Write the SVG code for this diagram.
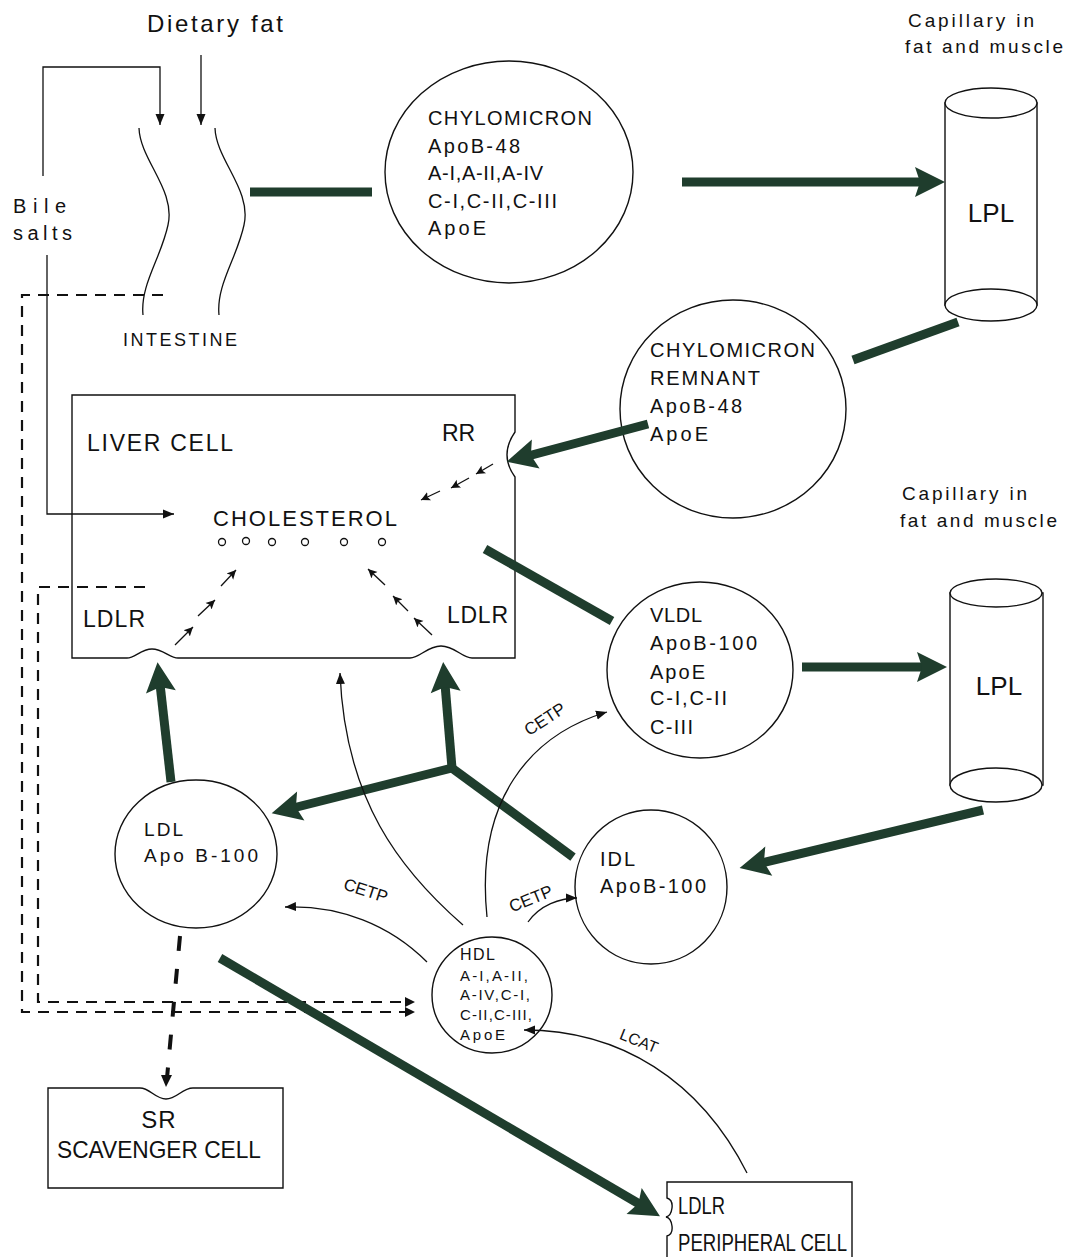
<svg xmlns="http://www.w3.org/2000/svg" width="1072" height="1257" viewBox="0 0 1072 1257">
<style>
text{font-family:"Liberation Sans",Arial,sans-serif;fill:#111}
.thin{fill:none;stroke:#111;stroke-width:1.3}
.shape{fill:#fff;stroke:#111;stroke-width:1.4}
.thick{fill:none;stroke:#1f3d2d;stroke-width:9}
.dash{fill:none;stroke:#111;stroke-width:2.2;stroke-dasharray:11 8}
.sm{fill:none;stroke:#111;stroke-width:1.3}
</style>
<defs>
<marker id="big" markerUnits="userSpaceOnUse" markerWidth="34" markerHeight="34" viewBox="-2 -17 34 34" refX="8" refY="0" orient="auto">
<path d="M0,-15 L30,0 L0,15 L5,0 Z" fill="#1f3d2d"/>
</marker>
<marker id="tn" markerUnits="userSpaceOnUse" markerWidth="14" markerHeight="12" viewBox="0 -6 14 12" refX="11" refY="0" orient="auto">
<path d="M0,-4.5 L11,0 L0,4.5 Z" fill="#111"/>
</marker>
<marker id="sm" markerUnits="userSpaceOnUse" markerWidth="12" markerHeight="12" viewBox="0 -6 12 12" refX="9" refY="0" orient="auto">
<path d="M0,-4.5 L9,0 L0,4.5 L2,0 Z" fill="#111"/>
</marker>
</defs>

<g id="dietary-fat">
<text x="147" y="32" font-size="24" textLength="136" lengthAdjust="spacing">Dietary fat</text>
</g>
<g id="bile-salts">
<text x="13" y="213" font-size="20" textLength="53" lengthAdjust="spacing">Bile</text>
<text x="13" y="240" font-size="20" textLength="59" lengthAdjust="spacing">salts</text>
</g>
<g id="intestine">
<path class="thin" d="M139,128 C140,160 176,190 168,225 C161,258 140,285 143,315"/>
<path class="thin" d="M215,128 C216,160 252,190 244,225 C237,258 216,285 219,315"/>
<text x="123" y="346" font-size="18" textLength="114" lengthAdjust="spacing">INTESTINE</text>
</g>
<g id="chylomicron">
<ellipse class="shape" cx="509" cy="172" rx="124" ry="111"/>
<text x="428" y="125" font-size="20" textLength="164" lengthAdjust="spacing">CHYLOMICRON</text>
<text x="428" y="153" font-size="20" textLength="92" lengthAdjust="spacing">ApoB-48</text>
<text x="428" y="180" font-size="20" textLength="115" lengthAdjust="spacing">A-I,A-II,A-IV</text>
<text x="428" y="208" font-size="20" textLength="129" lengthAdjust="spacing">C-I,C-II,C-III</text>
<text x="428" y="235" font-size="20" textLength="58" lengthAdjust="spacing">ApoE</text>
</g>
<g id="capillary-1">
<text x="908" y="27" font-size="19" textLength="126" lengthAdjust="spacing">Capillary in</text>
<text x="905" y="53" font-size="19" textLength="158" lengthAdjust="spacing">fat and muscle</text>
<path class="shape" d="M945,103 V305 H1037 V103 Z"/>
<ellipse class="shape" cx="991" cy="103" rx="46" ry="15"/>
<ellipse class="shape" cx="991" cy="305" rx="46" ry="16"/>
<text x="991" y="222" font-size="26" text-anchor="middle">LPL</text>
</g>
<g id="chylomicron-remnant">
<ellipse class="shape" cx="733" cy="409" rx="113" ry="109"/>
<text x="650" y="357" font-size="20" textLength="165" lengthAdjust="spacing">CHYLOMICRON</text>
<text x="650" y="385" font-size="20" textLength="110" lengthAdjust="spacing">REMNANT</text>
<text x="650" y="413" font-size="20" textLength="92" lengthAdjust="spacing">ApoB-48</text>
<text x="650" y="441" font-size="20" textLength="58" lengthAdjust="spacing">ApoE</text>
</g>
<g id="liver-cell">
<path class="shape" d="M72,395 H515 V432 Q499,455 515,477 V658 H472 C462,658 455,646 441,646 C427,646 420,658 410,658 H178 C170,658 163,649 152,649 C141,649 135,658 127,658 H72 Z"/>
<text x="87" y="451" font-size="23" textLength="146" lengthAdjust="spacing">LIVER CELL</text>
<text x="442" y="441" font-size="23">RR</text>
<text x="213" y="526" font-size="22" textLength="184" lengthAdjust="spacing">CHOLESTEROL</text>
<g class="sm">
<circle cx="222" cy="542" r="3.5"/><circle cx="246" cy="541" r="3.5"/><circle cx="272" cy="542" r="3.5"/>
<circle cx="305" cy="542" r="3.5"/><circle cx="344" cy="542" r="3.5"/><circle cx="382" cy="542" r="3.5"/>
</g>
<text x="83" y="627" font-size="23" textLength="62" lengthAdjust="spacing">LDLR</text>
<text x="447" y="623" font-size="23" textLength="61" lengthAdjust="spacing">LDLR</text>
<g marker-end="url(#sm)">
<line class="sm" x1="175" y1="645" x2="193" y2="627"/>
<line class="sm" x1="198" y1="616" x2="215" y2="600"/>
<line class="sm" x1="221" y1="586" x2="236" y2="570"/>
<line class="sm" x1="432" y1="635" x2="414" y2="618"/>
<line class="sm" x1="408" y1="611" x2="393" y2="596"/>
<line class="sm" x1="385" y1="585" x2="368" y2="569"/>
<line class="sm" x1="493" y1="464" x2="476" y2="474"/>
<line class="sm" x1="469" y1="478" x2="451" y2="488"/>
<line class="sm" x1="440" y1="491" x2="421" y2="500"/>
</g>
</g>
<g id="vldl">
<ellipse class="shape" cx="700" cy="670" rx="93" ry="88"/>
<text x="650" y="622" font-size="20" textLength="52" lengthAdjust="spacing">VLDL</text>
<text x="650" y="650" font-size="20" textLength="107" lengthAdjust="spacing">ApoB-100</text>
<text x="650" y="679" font-size="20" textLength="55" lengthAdjust="spacing">ApoE</text>
<text x="650" y="705" font-size="20" textLength="77" lengthAdjust="spacing">C-I,C-II</text>
<text x="650" y="734" font-size="20" textLength="43" lengthAdjust="spacing">C-III</text>
</g>
<g id="capillary-2">
<text x="902" y="500" font-size="19" textLength="125" lengthAdjust="spacing">Capillary in</text>
<text x="900" y="527" font-size="19" textLength="157" lengthAdjust="spacing">fat and muscle</text>
<path class="shape" d="M950,593 V785 H1043 V593 Z"/>
<ellipse class="shape" cx="996" cy="593" rx="46" ry="14"/>
<ellipse class="shape" cx="996" cy="785" rx="46" ry="17"/>
<text x="999" y="695" font-size="26" text-anchor="middle">LPL</text>
</g>
<g id="idl">
<ellipse class="shape" cx="651" cy="887" rx="76" ry="77"/>
<text x="600" y="866" font-size="20" textLength="35" lengthAdjust="spacing">IDL</text>
<text x="600" y="893" font-size="20" textLength="106" lengthAdjust="spacing">ApoB-100</text>
</g>
<g id="ldl">
<ellipse class="shape" cx="196" cy="854" rx="81" ry="74"/>
<text x="144" y="836" font-size="19" textLength="39" lengthAdjust="spacing">LDL</text>
<text x="144" y="862" font-size="19" textLength="114" lengthAdjust="spacing">Apo  B-100</text>
</g>
<g id="hdl">
<ellipse class="shape" cx="492" cy="995" rx="60" ry="58"/>
<text x="460" y="960" font-size="16" textLength="35" lengthAdjust="spacing">HDL</text>
<text x="460" y="981" font-size="15" textLength="68" lengthAdjust="spacing">A-I,A-II,</text>
<text x="460" y="1000" font-size="15" textLength="70" lengthAdjust="spacing">A-IV,C-I,</text>
<text x="460" y="1020" font-size="15" textLength="72" lengthAdjust="spacing">C-II,C-III,</text>
<text x="460" y="1040" font-size="15" textLength="45" lengthAdjust="spacing">ApoE</text>
</g>
<g id="scavenger-cell">
<path class="shape" d="M48,1088 H140 C150,1088 155,1099 166,1099 C177,1099 182,1088 193,1088 H283 V1188 H48 Z"/>
<text x="159" y="1128" font-size="24" text-anchor="middle" letter-spacing="1">SR</text>
<text x="57" y="1158" font-size="24" textLength="204" lengthAdjust="spacingAndGlyphs">SCAVENGER CELL</text>
</g>
<g id="peripheral-cell">
<path class="shape" d="M667,1260 V1236 Q673,1234 672,1226 Q671,1218 666,1217 Q671,1216 672,1208 Q673,1200 667,1198 V1182 H852 V1260"/>
<text x="678" y="1214" font-size="24" textLength="47" lengthAdjust="spacingAndGlyphs">LDLR</text>
<text x="678" y="1251" font-size="24" textLength="169" lengthAdjust="spacingAndGlyphs">PERIPHERAL CELL</text>
</g>

<g id="connectors">
<path class="thin" d="M43,176 V67 H160 V125" marker-end="url(#tn)"/>
<path class="thin" d="M201,55 V125" marker-end="url(#tn)"/>
<path class="thin" d="M47,255 V514 H174" marker-end="url(#tn)"/>
<path class="dash" d="M163,295 H22 V1012 H410"/>
<path class="dash" d="M145,587 H38 V1002 H410"/>
<path d="M405,997 L415,1002 L405,1007 Z M405,1007 L415,1012 L405,1017 Z" fill="#111"/>
<line class="thick" x1="250" y1="192" x2="372" y2="192"/>
<line class="thick" x1="682" y1="182" x2="923" y2="182" marker-end="url(#big)"/>
<line class="thick" x1="958" y1="322" x2="853" y2="360"/>
<line class="thick" x1="648" y1="424" x2="528" y2="456" marker-end="url(#big)"/>
<line class="thick" x1="485" y1="549" x2="612" y2="621"/>
<line class="thick" x1="802" y1="667" x2="925" y2="667" marker-end="url(#big)"/>
<line class="thick" x1="983" y1="810" x2="761" y2="863" marker-end="url(#big)"/>
<path class="thick" d="M573,857 L452,768" stroke-linejoin="miter"/>
<line class="thick" x1="452" y1="768" x2="445" y2="684" marker-end="url(#big)"/>
<line class="thick" x1="456" y1="767" x2="293" y2="808" marker-end="url(#big)"/>
<line class="thick" x1="171" y1="782" x2="160" y2="684" marker-end="url(#big)"/>
<line class="thick" x1="220" y1="958" x2="641" y2="1205" marker-end="url(#big)"/>
<line x1="180" y1="936" x2="167" y2="1078" stroke="#111" stroke-width="4" stroke-dasharray="15 18"/>
<path d="M161,1075 L166,1087 L172,1075 Z" fill="#111"/>
<path class="thin" d="M463,925 C400,870 345,800 340,673" marker-end="url(#tn)"/>
<path class="thin" d="M487,917 C475,800 530,735 607,712" marker-end="url(#tn)"/>
<path class="thin" d="M528,922 C540,905 560,898 577,898" marker-end="url(#tn)"/>
<path class="thin" d="M427,962 C390,925 340,905 285,907" marker-end="url(#tn)"/>
<path class="thin" d="M747,1173 C700,1080 620,1030 524,1030" marker-end="url(#tn)"/>
<text font-size="17" transform="translate(548,724) rotate(-33)" text-anchor="middle">CETP</text>
<text font-size="17" transform="translate(533,904) rotate(-22)" text-anchor="middle">CETP</text>
<text font-size="17" transform="translate(364,896) rotate(18)" text-anchor="middle">CETP</text>
<text font-size="16" transform="translate(637,1046) rotate(22)" text-anchor="middle">LCAT</text>
</g>
</svg>
